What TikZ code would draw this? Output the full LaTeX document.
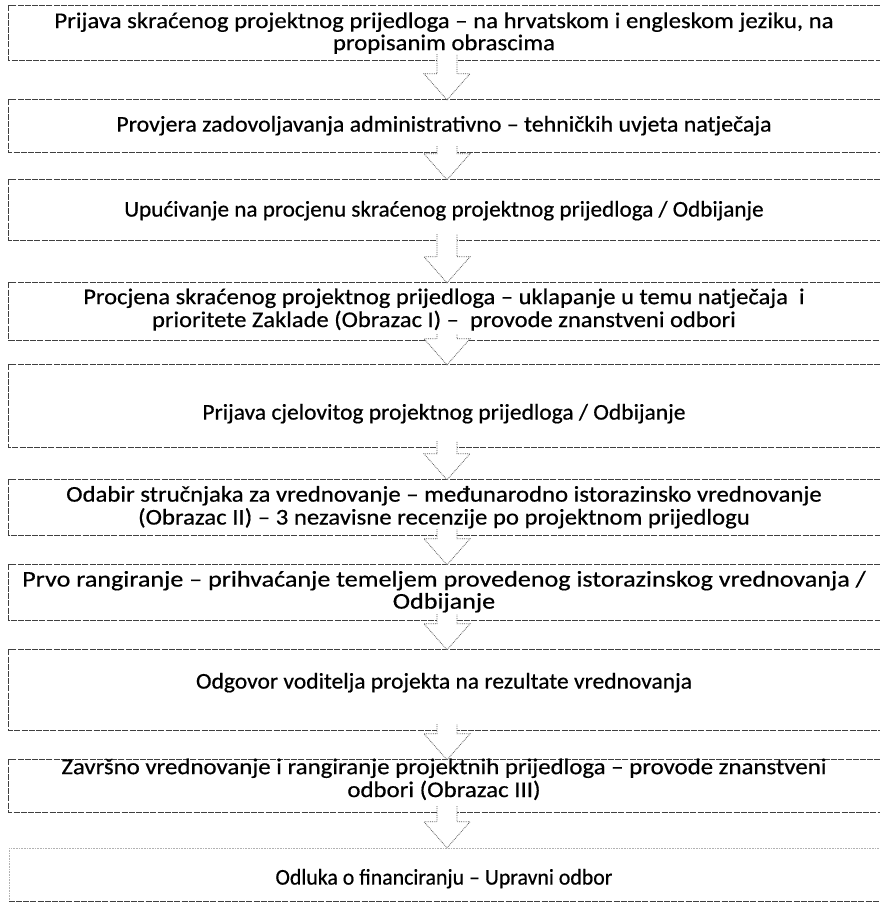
\documentclass[tikz,border=0pt]{standalone}
\usepackage{fontspec}
\usepackage{graphicx}
\setmainfont{Carlito}[FakeBold=0.5]
\usetikzlibrary{calc}
\tikzset{
  boxframe/.style={draw=none, minimum width=870pt, inner sep=0pt},
  frameline/.style={draw=black!75, line width=0.9pt, dash pattern=on 6pt off 1.2pt},
  faintline/.style={draw=black!30, line width=0.6pt, densely dotted},
  arrowline/.style={draw=black!65, line width=0.8pt, densely dotted},
  boxtext/.style={align=center, inner sep=0pt, font=\fontsize{22.5}{21.5}\selectfont}
}
\newcommand\stretchtext[2]{\scalebox{#1}[1]{\begin{tabular}{@{}c@{}}#2\end{tabular}}}
\newcommand\flowarrow[2]{%
  \path[fill=white] let \p1=(#1.south), \p2=(#2.north) in
    (\x1-7pt,\y1+6pt) -- (\x1-7pt,\y2+26pt) -- (\x1-20pt,\y2+26pt) -- (\x1+3pt,\y2)
    -- (\x1+26pt,\y2+26pt) -- (\x1+13pt,\y2+26pt) -- (\x1+13pt,\y1+6pt) -- cycle;
  \draw[arrowline] let \p1=(#1.south), \p2=(#2.north) in
    (\x1-7pt,\y1+6pt) -- (\x1-7pt,\y2+26pt) -- (\x1-20pt,\y2+26pt) -- (\x1+3pt,\y2)
    -- (\x1+26pt,\y2+26pt) -- (\x1+13pt,\y2+26pt) -- (\x1+13pt,\y1+6pt);
}
\newcommand\boxsides[1]{%
  \draw[frameline] ([xshift=30pt]#1.north east) -- (#1.north west) -- (#1.south west) -- ([xshift=30pt]#1.south east);
}
\begin{document}
\begin{tikzpicture}[x=1pt,y=-1pt]
\useasboundingbox (0,0) rectangle (880,906);
\fill[white] (0,0) rectangle (880,906);
\clip (0,0) rectangle (880,906);

% boxes (frames)
\node[boxframe, minimum height=54pt] (b1) at (444,33) {};
\node[boxframe, minimum height=52pt] (b2) at (444,126) {};
\node[boxframe, minimum height=60pt] (b3) at (444,210) {};
\node[boxframe, minimum height=57pt] (b4) at (444,311.5) {};
\node[boxframe, minimum height=82pt] (b5) at (444,406) {};
\node[boxframe, minimum height=55pt] (b6) at (444,507.5) {};
\node[boxframe, minimum height=55pt] (b7) at (444,592.5) {};
\node[boxframe, minimum height=80pt] (b8) at (444,690) {};
\node[boxframe, minimum height=52pt] (b9) at (444,786) {};
\node[boxframe, minimum height=53pt] (b10) at (444,874.5) {};

\boxsides{b1}
\boxsides{b2}
\boxsides{b3}
\boxsides{b4}
\boxsides{b5}
\boxsides{b6}
\boxsides{b7}
\boxsides{b8}
\boxsides{b9}
\draw[faintline] ([xshift=30pt]b10.north east) -- (b10.north west) -- (b10.south west);
\draw[frameline] (b10.south west) -- ([xshift=30pt]b10.south east);

% arrows
\flowarrow{b1}{b2}
\flowarrow{b2}{b3}
\flowarrow{b3}{b4}
\flowarrow{b4}{b5}
\flowarrow{b5}{b6}
\flowarrow{b6}{b7}
\flowarrow{b7}{b8}
\flowarrow{b8}{b9}
\flowarrow{b9}{b10}

% texts
\node[boxtext] (t1) at (444,34.5) {\stretchtext{1.10}{Prijava skraćenog projektnog prijedloga – na hrvatskom i engleskom jeziku, na\\propisanim obrascima}};
\node[boxtext] (t2) at (444,127) {\stretchtext{1.06}{Provjera zadovoljavanja administrativno – tehničkih uvjeta natječaja}};
\node[boxtext] (t3) at (444,212) {\stretchtext{1.03}{Upućivanje na procjenu skraćenog projektnog prijedloga / Odbijanje}};
\node[boxtext] (t4) at (444,311) {\stretchtext{1.09}{Procjena skraćenog projektnog prijedloga – uklapanje u temu natječaja~ i\\prioritete Zaklade (Obrazac I) –~ provode znanstveni odbori}};
\node[boxtext] (t5) at (444,415) {\stretchtext{1.045}{Prijava cjelovitog projektnog prijedloga / Odbijanje}};
\node[boxtext] (t6) at (444,508.5) {\stretchtext{1.10}{Odabir stručnjaka za vrednovanje – međunarodno istorazinsko vrednovanje\\(Obrazac II) – 3 nezavisne recenzije po projektnom prijedlogu}};
\node[boxtext] (t7) at (444,593) {\stretchtext{1.16}{Prvo rangiranje – prihvaćanje temeljem provedenog istorazinskog vrednovanja /\\Odbijanje}};
\node[boxtext] (t8) at (444,684) {\stretchtext{1.045}{Odgovor voditelja projekta na rezultate vrednovanja}};
\node[boxtext] (t9) at (444,781) {\stretchtext{1.105}{Završno vrednovanje i rangiranje projektnih prijedloga – provode znanstveni\\odbori (Obrazac III)}};
\node[boxtext] (t10) at (444,880) {\stretchtext{0.97}{Odluka o financiranju – Upravni odbor}};
\end{tikzpicture}
\end{document}
